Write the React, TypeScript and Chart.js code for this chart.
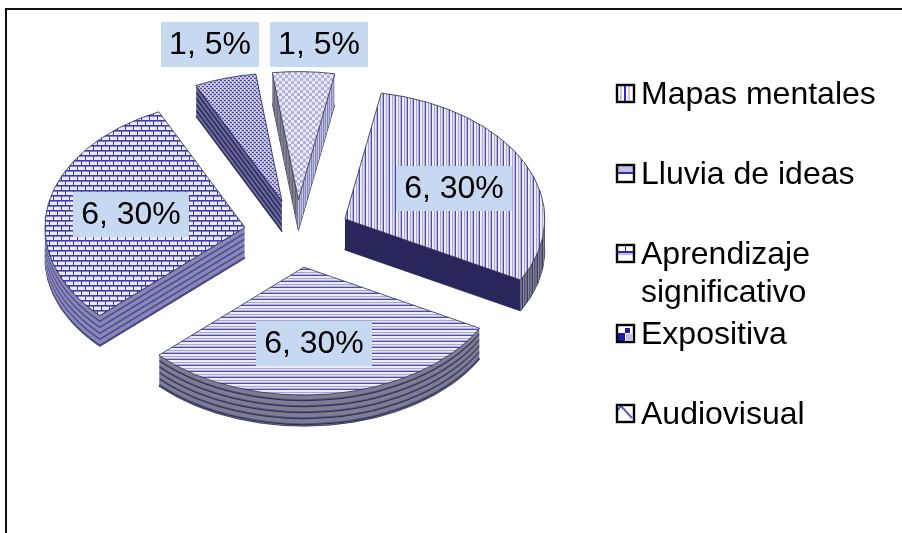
import React, { useEffect, useRef } from "react";
import { Chart, registerables } from "chart.js";

Chart.register(...registerables);

const categories = ["Mapas mentales", "Lluvia de ideas", "Aprendizaje significativo", "Expositiva", "Audiovisual"];
const values = [6, 6, 6, 1, 1];
const legendLines = [["Mapas mentales"], ["Lluvia de ideas"], ["Aprendizaje", "significativo"], ["Expositiva"], ["Audiovisual"]];

const FONT = '32px "Liberation Sans", Arial, sans-serif';
const TILT = 0.64;
const RADIUS = 200;
const EXPLODE = 53;
const DEPTH = 31;
const CX = 297;
const CY = 233.5;
const ROTATION = 10.5;
const LABEL_CENTERS = [[454, 188.5], [314, 343.5], [131, 214.5], [210, 44.5], [319, 44.5]];
const LEGEND_ROWS = [94, 174, 254, 334, 414];
const LABEL_BG = "#C6D9F1";

type Painter = (c: CanvasRenderingContext2D) => void;

function tile(w: number, h: number, paint: Painter): HTMLCanvasElement {
  const cv = document.createElement("canvas");
  cv.width = w;
  cv.height = h;
  paint(cv.getContext("2d") as CanvasRenderingContext2D);
  return cv;
}

const stripesV = (cols: string[]) => tile(cols.length, 2, (c) => cols.forEach((col, i) => { c.fillStyle = col; c.fillRect(i, 0, 1, 2); }));
const stripesH = (cols: string[]) => tile(2, cols.length, (c) => cols.forEach((col, i) => { c.fillStyle = col; c.fillRect(0, i, 2, 1); }));

const BAND = ["#ECECFB", "#ECECFB", "#A6A6D8", "#E2E2F6", "#B4B4DE", "#4C4CA8"];

const brickTile = () => tile(8, 10, (c) => {
  c.fillStyle = "#EAEAFA"; c.fillRect(0, 0, 8, 10);
  c.fillStyle = "#3E3EB0";
  c.fillRect(0, 0, 8, 1); c.fillRect(0, 5, 8, 1);
  c.fillStyle = "#8080CE";
  c.fillRect(0, 1, 8, 1); c.fillRect(0, 6, 8, 1);
  c.fillStyle = "#3E3EB0";
  c.fillRect(1, 1, 1, 4); c.fillRect(5, 6, 1, 4);
});
const dotTile = () => tile(4, 4, (c) => {
  c.fillStyle = "#B4B4E6"; c.fillRect(0, 0, 4, 4);
  c.fillStyle = "#4646AE"; c.fillRect(0, 0, 2, 1); c.fillRect(2, 2, 2, 1);
  c.fillStyle = "#E8E8FA"; c.fillRect(2, 0, 1, 1); c.fillRect(0, 2, 1, 1);
});
const latticeTile = () => tile(6, 6, (c) => {
  c.fillStyle = "#EAEAF9"; c.fillRect(0, 0, 6, 6);
  c.fillStyle = "#B2B2E0"; c.fillRect(0, 0, 3, 3); c.fillRect(3, 3, 3, 3);
});

const legendSwatches: Painter[] = [
  (c) => { c.fillStyle = "#fff"; c.fillRect(0, 0, 16, 16); c.fillStyle = "#2A2ABE"; c.fillRect(7, 0, 2, 16); c.fillStyle = "#C8C8EC"; c.fillRect(3, 0, 2, 16); c.fillRect(11, 0, 2, 16); },
  (c) => { c.fillStyle = "#fff"; c.fillRect(0, 0, 16, 16); c.fillStyle = "#C0C0EA"; c.fillRect(0, 0, 16, 7); c.fillStyle = "#2A2ABE"; c.fillRect(0, 7, 16, 2); },
  (c) => { c.fillStyle = "#fff"; c.fillRect(0, 0, 16, 16); c.fillStyle = "#2A2ABE"; c.fillRect(0, 6, 16, 2); c.fillRect(8, 0, 1, 6); c.fillStyle = "#C0C0EA"; c.fillRect(0, 8, 16, 2); },
  (c) => { c.fillStyle = "#fff"; c.fillRect(0, 0, 16, 16); c.fillStyle = "#1C1CA8"; c.fillRect(0, 8, 8, 8); c.fillRect(8, 3, 5, 5); c.fillStyle = "#C0C0EA"; c.fillRect(9, 9, 6, 6); },
  (c) => { c.fillStyle = "#fff"; c.fillRect(0, 0, 16, 16); c.strokeStyle = "#5C5CC0"; c.lineWidth = 2; c.beginPath(); c.moveTo(0, 6); c.lineTo(4, 1); c.lineTo(15, 13); c.stroke(); },
];

export default function App() {
  const ref = useRef<HTMLCanvasElement>(null);

  useEffect(() => {
    const canvas = ref.current as HTMLCanvasElement;
    const ctx = canvas.getContext("2d") as CanvasRenderingContext2D;
    const pat = (t: HTMLCanvasElement) => ctx.createPattern(t, "repeat") as CanvasPattern;

    const topFaces = [
      pat(stripesV(BAND)),
      pat(stripesH(BAND)),
      pat(brickTile()),
      pat(dotTile()),
      pat(latticeTile()),
    ];
    const outerWall = pat(stripesV(["#6E6E84", "#6E6E84", "#3A3A68", "#85859A", "#5A5A78"]));
    const lightWall = pat(stripesV(["#B8B8DC", "#8E8EC0", "#C8C8E6", "#8080B4"]));
    const greyWall = pat(stripesV(["#7A7A88", "#66667A", "#84848E"]));

    const lluviaBand = (i: number) => (i % 6 === 0 ? "#2C2C60" : i % 6 === 5 ? "#55557A" : "#7E7E92");
    const aprendBand = (i: number) => (i % 6 === 0 ? "#3C3C9A" : i % 6 === 1 ? "#6060A8" : "#8A8AB0");
    const expoBand = (i: number) => (i % 6 < 2 ? "#2A2A66" : i % 6 === 2 ? "#3C3C88" : "#6E6E90");

    const total = values.reduce((a, b) => a + b, 0);

    const drawArc = (el: any, override: any, dy: number) => {
      const saved = el.options;
      const mid = (el.startAngle + el.endAngle) / 2;
      ctx.save();
      ctx.translate(0, el.y + dy);
      ctx.scale(1, TILT);
      ctx.translate(0, -el.y);
      ctx.translate(Math.cos(mid) * EXPLODE, Math.sin(mid) * EXPLODE);
      const bg = override.backgroundColor ?? saved.backgroundColor;
      if (bg && typeof bg !== "string") {
        bg.setTransform(ctx.getTransform().invertSelf());
      }
      el.options = { ...saved, ...override };
      el.draw(ctx);
      el.options = saved;
      ctx.restore();
    };

    const edgeX = (el: any, angle: number) => {
      const mid = (el.startAngle + el.endAngle) / 2;
      return el.x + Math.cos(mid) * EXPLODE + Math.cos(angle) * el.outerRadius;
    };
    const apexX = (el: any) => el.x + Math.cos((el.startAngle + el.endAngle) / 2) * EXPLODE;

    const wall = (el: any, fill: (i: number) => any) => {
      drawArc(el, { backgroundColor: fill(DEPTH), borderColor: "#2C2C50", borderWidth: 1 }, DEPTH);
      for (let i = DEPTH - 1; i >= 1; i--) {
        drawArc(el, { backgroundColor: fill(i), borderWidth: 0 }, i);
      }
    };

    const clipped = (x0: number, x1: number, fn: () => void) => {
      ctx.save();
      ctx.beginPath();
      ctx.rect(x0, 0, x1 - x0, 533);
      ctx.clip();
      fn();
      ctx.restore();
    };

    const drawSlice = (el: any, index: number) => {
      if (index === 0) {
        const split = edgeX(el, el.endAngle);
        clipped(0, split, () => wall(el, () => "#28285C"));
        clipped(split, 902, () => wall(el, () => outerWall));
      } else if (index === 1) {
        wall(el, lluviaBand);
      } else if (index === 2) {
        wall(el, aprendBand);
      } else if (index === 3) {
        wall(el, expoBand);
      } else {
        const split = apexX(el);
        clipped(0, split, () => wall(el, () => greyWall));
        clipped(split, 902, () => wall(el, () => lightWall));
      }
      drawArc(el, {}, 0);
    };

    const exploded3d = {
      id: "exploded3d",
      beforeDatasetDraw: () => false,
      afterDatasetsDraw(chart: any) {
        const arcs = chart.getDatasetMeta(0).data;
        [3, 4, 2, 0, 1].forEach((i) => drawSlice(arcs[i], i));
      },
      afterDraw() {
        ctx.save();
        // frame
        ctx.strokeStyle = "#111";
        ctx.lineWidth = 2;
        ctx.beginPath();
        ctx.moveTo(6, 533);
        ctx.lineTo(6, 9);
        ctx.lineTo(902, 9);
        ctx.stroke();
        // data labels
        ctx.font = FONT;
        ctx.textAlign = "center";
        ctx.textBaseline = "middle";
        values.forEach((v, i) => {
          const text = `${v}, ${Math.round((v / total) * 100)}%`;
          const [x, y] = LABEL_CENTERS[i];
          const w = Math.round(ctx.measureText(text).width) + 16;
          ctx.fillStyle = LABEL_BG;
          ctx.fillRect(x - w / 2, y - 22.5, w, 45);
          ctx.fillStyle = "#000";
          ctx.fillText(text, x, y + 1);
        });
        // legend
        ctx.textAlign = "left";
        legendLines.forEach((lines, i) => {
          const y = LEGEND_ROWS[i];
          ctx.drawImage(tile(16, 16, legendSwatches[i]), 617, y - 9);
          ctx.strokeStyle = "#000";
          ctx.lineWidth = 2.4;
          ctx.strokeRect(617, y - 9, 17, 17);
          ctx.fillStyle = "#000";
          lines.forEach((ln, j) => ctx.fillText(ln, 641, y + 1 + j * 38));
        });
        ctx.restore();
      },
    };

    const chart = new Chart(canvas, {
      type: "pie",
      data: {
        labels: categories,
        datasets: [{
          data: values,
          backgroundColor: topFaces as any,
          borderColor: "#34344E",
          borderWidth: 1,
          borderAlign: "center",
        }],
      },
      options: {
        animation: false,
        responsive: false,
        events: [],
        rotation: ROTATION,
        radius: RADIUS,
        layout: { padding: { left: 0, top: 0, right: 902 - 2 * CX, bottom: 533 - 2 * CY } },
        plugins: { legend: { display: false }, tooltip: { enabled: false } },
      },
      plugins: [exploded3d as any],
    } as any);

    return () => chart.destroy();
  }, []);

  return (
    <canvas
      ref={ref}
      width={902}
      height={533}
      style={{ position: "absolute", left: 0, top: 0, display: "block", background: "#fff" }}
    />
  );
}
